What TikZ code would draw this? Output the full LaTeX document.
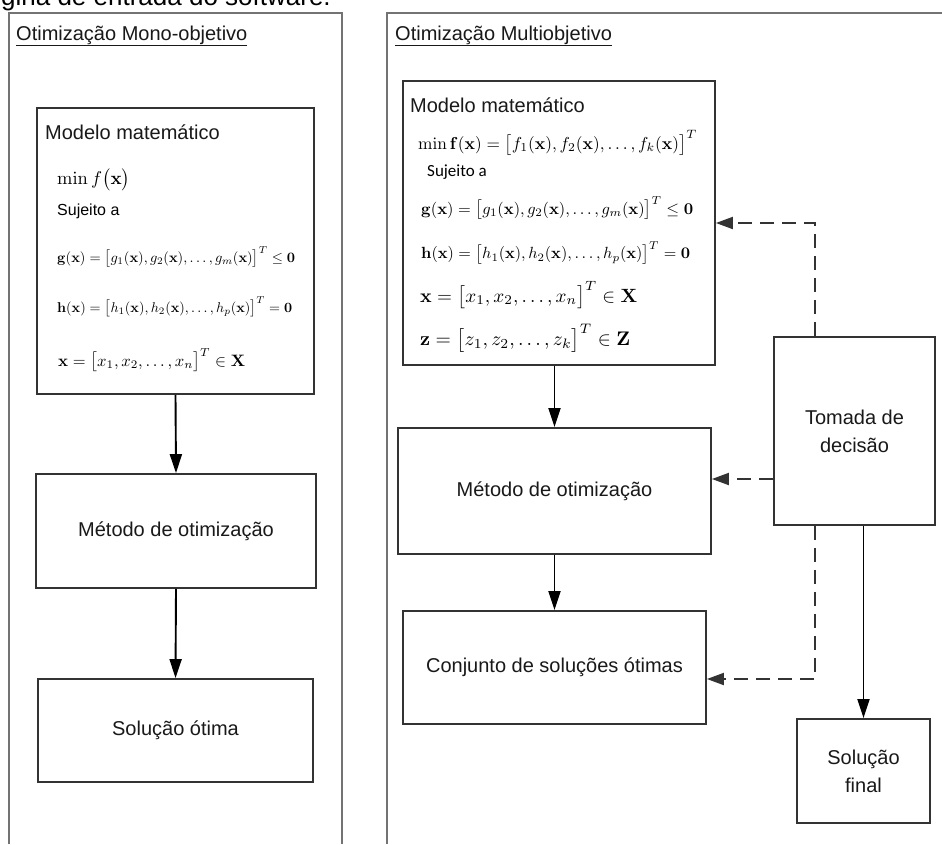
\documentclass[tikz,border=0pt]{standalone}
\usepackage[no-math]{fontspec}
\setmainfont{Liberation Sans}
\newfontfamily\calib{Carlito}
\usepackage{graphicx}
\usetikzlibrary{arrows.meta,calc,shadows}
\begin{document}
\begin{tikzpicture}[x=1pt,y=-1pt,
  frame/.style={draw=black!55, line width=2pt},
  box/.style={draw=black!80, line width=1.8pt, fill=white, inner sep=0pt,
    drop shadow={shadow xshift=1.2pt, shadow yshift=-1.2pt, fill=black!30}},
  lab/.style={font=\fontsize{20}{28}\selectfont, align=center, text=black!90},
  eq/.style={anchor=west, inner sep=0pt},
  arr/.style={-{Triangle[length=19pt,width=12pt]}, line width=1.9pt, black},
  dsh/.style={-{Triangle[length=17pt,width=12pt]}, line width=1.9pt, black!80, dash pattern=on 14pt off 8pt}]
\useasboundingbox (0,0) rectangle (942,844);
\fill[white] (0,0) rectangle (942,844);

% cut-off heading at the top
\begin{scope}
\clip (0,0) rectangle (942,844);
\node[anchor=base west, inner sep=0pt, font=\fontsize{26}{30}\selectfont] (toptxt) at (1,5) {gina de entrada do software.};
\end{scope}

% frames
\draw[frame] (9,844) -- (9,13) -- (342,13) -- (342,844);
\draw[frame] (387,844) -- (387,13) -- (942,13);
\node[anchor=base west, inner sep=0pt, lab] (ltitle) at (16,40) {\underline{Otimização Mono-objetivo}};
\node[anchor=base west, inner sep=0pt, lab] (rtitle) at (395,40) {\underline{Otimização Multiobjetivo}};

% ---------- left column ----------
\node[box, minimum width=277pt, minimum height=286pt] (lmod) at (175.5,251) {};
\node[eq, lab] (lmt) at (45,132) {Modelo matemático};
\node[eq] (lf) at (57,180) {\resizebox{73pt}{!}{$\min f\bigl(\mathbf{x}\bigr)$}};
\node[eq, font=\fontsize{16}{18}\selectfont] (ls) at (57,211) {Sujeito a};
\node[eq] (lg) at (57,257) {\resizebox{238pt}{!}{$\mathbf{g}(\mathbf{x})=\bigl[g_1(\mathbf{x}),g_2(\mathbf{x}),\ldots,g_m(\mathbf{x})\bigr]^T\le\mathbf{0}$}};
\node[eq] (lh) at (57,307) {\resizebox{235pt}{!}{$\mathbf{h}(\mathbf{x})=\bigl[h_1(\mathbf{x}),h_2(\mathbf{x}),\ldots,h_p(\mathbf{x})\bigr]^T=\mathbf{0}$}};
\node[eq] (lx) at (58,360) {\resizebox{187pt}{!}{$\mathbf{x}=\bigl[x_1,x_2,\ldots,x_n\bigr]^T\in\mathbf{X}$}};

\node[box, minimum width=280pt, minimum height=114pt, lab] (lmet) at (176,531) {Método de otimização};
\node[box, minimum width=275pt, minimum height=103pt, lab] (lsol) at (175.5,730.5) {Solução ótima};

\draw[arr] (lmod.south) -- (lmet.north);
\draw[arr] (lmet.south) -- (lsol.north);

% ---------- right column ----------
\node[box, minimum width=312pt, minimum height=284pt] (rmod) at (559,223) {};
\node[eq, lab] (rmt) at (410,105) {Modelo matemático};
\node[eq] (rf) at (418,143) {\resizebox{279pt}{!}{$\min\mathbf{f}(\mathbf{x})=\bigl[f_1(\mathbf{x}),f_2(\mathbf{x}),\ldots,f_k(\mathbf{x})\bigr]^T$}};
\node[eq, font=\calib\fontsize{17}{19}\selectfont] (rs) at (427,172) {Sujeito a};
\node[eq] (rg) at (421,208) {\resizebox{272pt}{!}{$\mathbf{g}(\mathbf{x})=\bigl[g_1(\mathbf{x}),g_2(\mathbf{x}),\ldots,g_m(\mathbf{x})\bigr]^T\le\mathbf{0}$}};
\node[eq] (rh) at (421,253) {\resizebox{269pt}{!}{$\mathbf{h}(\mathbf{x})=\bigl[h_1(\mathbf{x}),h_2(\mathbf{x}),\ldots,h_p(\mathbf{x})\bigr]^T=\mathbf{0}$}};
\node[eq] (rx) at (420,295) {\resizebox{217pt}{!}{$\mathbf{x}=\bigl[x_1,x_2,\ldots,x_n\bigr]^T\in\mathbf{X}$}};
\node[eq] (rz) at (420,338) {\resizebox{210pt}{!}{$\mathbf{z}=\bigl[z_1,z_2,\ldots,z_k\bigr]^T\in\mathbf{Z}$}};

\node[box, minimum width=313pt, minimum height=126pt, lab] (rmet) at (554.5,491) {Método de otimização};
\node[box, minimum width=303pt, minimum height=113pt, lab] (conj) at (554.5,667.5) {Conjunto de soluções ótimas};
\node[box, minimum width=161pt, minimum height=188pt, lab] (tom) at (854.5,431) {Tomada de\\decisão};
\node[box, minimum width=133pt, minimum height=104pt, lab] (sf) at (863.5,771) {Solução\\final};

\draw[arr] (rmet.north |- rmod.south) -- (rmet.north);
\draw[arr] (rmet.south) -- (conj.north);

\coordinate (t1) at ($(tom.north west)+(42,0)$);
\coordinate (t2) at ($(tom.south west)+(42,0)$);
\coordinate (d2) at ($(rmet.east)+(0,-12)$);
\coordinate (d3) at ($(conj.east)+(0,11.5)$);
\draw[dsh] (t1) |- (rmod.east);
\draw[dsh] (tom.west |- d2) -- (d2);
\draw[dsh] (t2) |- (d3);
\draw[arr] (sf.north |- tom.south) -- (sf.north);
\end{tikzpicture}
\end{document}
